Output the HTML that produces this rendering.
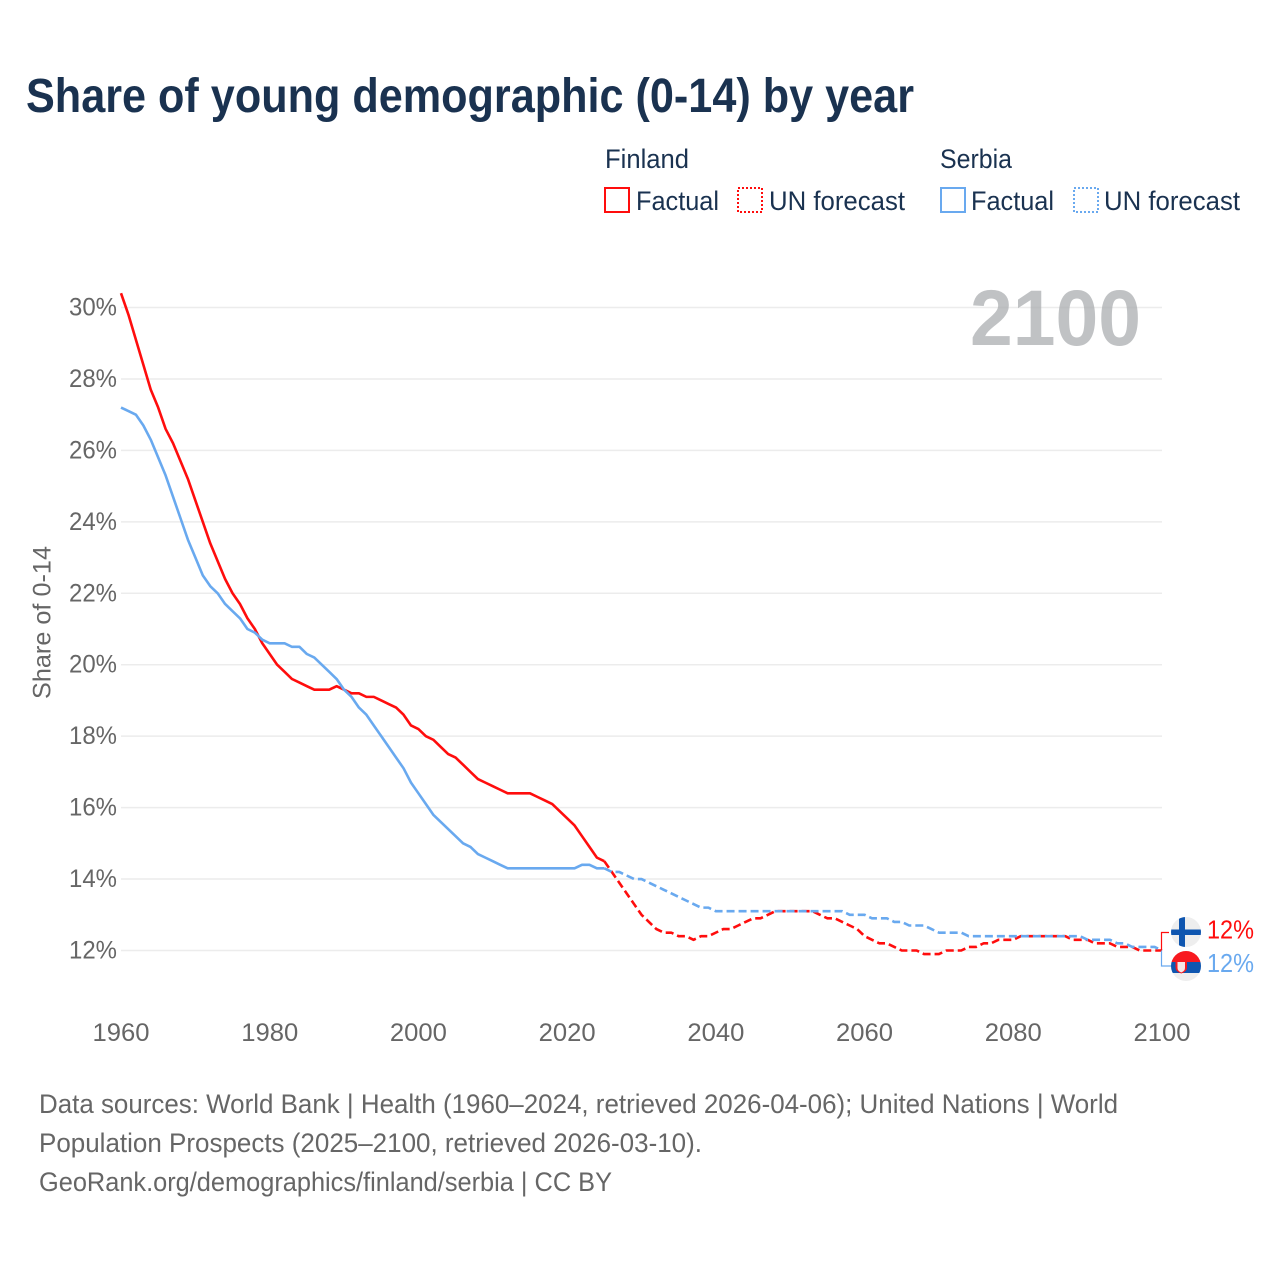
<!DOCTYPE html>
<html lang="en">
<head>
<meta charset="utf-8">
<title>Share of young demographic (0-14) by year</title>
<style>
html,body{margin:0;padding:0;background:#fff;width:1280px;height:1280px;overflow:hidden}
svg{display:block;font-family:"Liberation Sans",sans-serif}
</style>
</head>
<body>
<svg id="chart" width="1280" height="1280" viewBox="0 0 1280 1280" xmlns="http://www.w3.org/2000/svg">
  <rect width="1280" height="1280" fill="#fff"/>
  <text x="26" y="112" font-size="48" font-weight="700" fill="#1a3250" textLength="888" lengthAdjust="spacingAndGlyphs">Share of young demographic (0-14) by year</text>

  <g font-size="27" fill="#1a3250">
    <text x="605" y="168" textLength="84" lengthAdjust="spacingAndGlyphs">Finland</text>
    <text x="940" y="168" textLength="72" lengthAdjust="spacingAndGlyphs">Serbia</text>
    <g>
      <rect x="605" y="188" width="24" height="24" fill="none" stroke="#ff0d0d" stroke-width="2"/>
      <text x="636" y="210" textLength="83" lengthAdjust="spacingAndGlyphs">Factual</text>
    </g>
    <g>
      <rect x="738" y="188" width="24" height="24" fill="none" stroke="#ff0d0d" stroke-width="2" stroke-dasharray="2 2"/>
      <text x="769" y="210" textLength="136" lengthAdjust="spacingAndGlyphs">UN forecast</text>
    </g>
    <g>
      <rect x="941" y="188" width="24" height="24" fill="none" stroke="#69a9ef" stroke-width="2"/>
      <text x="971" y="210" textLength="83" lengthAdjust="spacingAndGlyphs">Factual</text>
    </g>
    <g>
      <rect x="1074" y="188" width="24" height="24" fill="none" stroke="#69a9ef" stroke-width="2" stroke-dasharray="2 2"/>
      <text x="1104" y="210" textLength="136" lengthAdjust="spacingAndGlyphs">UN forecast</text>
    </g>
  </g>

  <g id="grid"></g>
  <g id="yticks" font-size="25" fill="#666"></g>
  <g id="xticks" font-size="25" fill="#666"></g>
  <text transform="translate(50.5,699) rotate(-90)" font-size="25" fill="#666" textLength="153" lengthAdjust="spacingAndGlyphs">Share of 0-14</text>
  <text x="970" y="345" font-size="79" font-weight="700" fill="#a8aaad" fill-opacity="0.72" textLength="171" lengthAdjust="spacingAndGlyphs">2100</text>

  <g id="series"></g>
  <g id="connectors"></g>

  <defs>
    <clipPath id="clipFi"><circle cx="1186" cy="932" r="15"/></clipPath>
    <clipPath id="clipRs"><circle cx="1186" cy="966" r="15"/></clipPath>
  </defs>
  <g clip-path="url(#clipFi)">
    <rect x="1171" y="917" width="30" height="30" fill="#eeeeee"/>
    <rect x="1179" y="917" width="6" height="30" fill="#0f56b0"/>
    <rect x="1171" y="929.5" width="30" height="5.5" fill="#0f56b0"/>
  </g>
  <g clip-path="url(#clipRs)">
    <rect x="1171" y="951" width="30" height="30" fill="#eeeeee"/>
    <rect x="1171" y="951" width="30" height="11" fill="#f8191f"/>
    <rect x="1171" y="962" width="30" height="11" fill="#0f56b0"/>
    <path d="M1175.500 957.500h11.500v10q0 4-5.750 6q-5.750-2-5.750-6z" fill="#f8191f"/>
    <path d="M1177.500 962h7.500v6q0 3-3.750 4.500q-3.750-1.500-3.750-4.500z" fill="#f4e8e8"/>
  </g>
  <text id="endFi" x="1207" y="938.500" font-size="26" fill="#ff0d0d" textLength="47" lengthAdjust="spacingAndGlyphs"></text>
  <text id="endRs" x="1207" y="972" font-size="26" fill="#69a9ef" textLength="47" lengthAdjust="spacingAndGlyphs"></text>

  <g font-size="27" fill="#666">
    <text x="39" y="1113" textLength="1079" lengthAdjust="spacingAndGlyphs">Data sources: World Bank | Health (1960–2024, retrieved 2026-04-06); United Nations | World</text>
    <text x="39" y="1152" textLength="663" lengthAdjust="spacingAndGlyphs">Population Prospects (2025–2100, retrieved 2026-03-10).</text>
    <text x="39" y="1191" textLength="573" lengthAdjust="spacingAndGlyphs">GeoRank.org/demographics/finland/serbia | CC BY</text>
  </g>
</svg>
<script>
const xTickYears = [1960, 1980, 2000, 2020, 2040, 2060, 2080, 2100];
const yTickValues = [12, 14, 16, 18, 20, 22, 24, 26, 28, 30];
const factualStartYear = 1960;
const forecastStartYear = 2025;
const finlandFactual = [
  30.4,29.8,29.1,28.4,27.7,27.2,26.6,26.2,25.7,25.2,
  24.6,24.0,23.4,22.9,22.4,22.0,21.7,21.3,21.0,20.6,
  20.3,20.0,19.8,19.6,19.5,19.4,19.3,19.3,19.3,19.4,
  19.3,19.2,19.2,19.1,19.1,19.0,18.9,18.8,18.6,18.3,
  18.2,18.0,17.9,17.7,17.5,17.4,17.2,17.0,16.8,16.7,
  16.6,16.5,16.4,16.4,16.4,16.4,16.3,16.2,16.1,15.9,
  15.7,15.5,15.2,14.9,14.6,14.5
];
const serbiaFactual = [
  27.2,27.1,27.0,26.7,26.3,25.8,25.3,24.7,24.1,23.5,
  23.0,22.5,22.2,22.0,21.7,21.5,21.3,21.0,20.9,20.7,
  20.6,20.6,20.6,20.5,20.5,20.3,20.2,20.0,19.8,19.6,
  19.3,19.1,18.8,18.6,18.3,18.0,17.7,17.4,17.1,16.7,
  16.4,16.1,15.8,15.6,15.4,15.2,15.0,14.9,14.7,14.6,
  14.5,14.4,14.3,14.3,14.3,14.3,14.3,14.3,14.3,14.3,
  14.3,14.3,14.4,14.4,14.3,14.3
];
const finlandForecast = [
  14.5,14.2,13.9,13.6,13.3,13.0,12.8,12.6,12.5,12.5,
  12.4,12.4,12.3,12.4,12.4,12.5,12.6,12.6,12.7,12.8,
  12.9,12.9,13.0,13.1,13.1,13.1,13.1,13.1,13.1,13.0,
  12.9,12.9,12.8,12.7,12.6,12.4,12.3,12.2,12.2,12.1,
  12.0,12.0,12.0,11.9,11.9,11.9,12.0,12.0,12.0,12.1,
  12.1,12.2,12.2,12.3,12.3,12.3,12.4,12.4,12.4,12.4,
  12.4,12.4,12.4,12.3,12.3,12.3,12.2,12.2,12.2,12.1,
  12.1,12.1,12.0,12.0,12.0,12.0
];
const serbiaForecast = [
  14.3,14.2,14.2,14.1,14.0,14.0,13.9,13.8,13.7,13.6,
  13.5,13.4,13.3,13.2,13.2,13.1,13.1,13.1,13.1,13.1,
  13.1,13.1,13.1,13.1,13.1,13.1,13.1,13.1,13.1,13.1,
  13.1,13.1,13.1,13.0,13.0,13.0,12.9,12.9,12.9,12.8,
  12.8,12.7,12.7,12.7,12.6,12.5,12.5,12.5,12.5,12.4,
  12.4,12.4,12.4,12.4,12.4,12.4,12.4,12.4,12.4,12.4,
  12.4,12.4,12.4,12.4,12.4,12.3,12.3,12.3,12.3,12.2,
  12.2,12.1,12.1,12.1,12.1,12.0
];

const NS = 'http://www.w3.org/2000/svg';
const COLOR_FI = '#ff0d0d';
const COLOR_RS = '#69a9ef';
function xScale(year) { return 121 + (year - 1960) * (1162 - 121) / 140; }
function yScale(v) { return 950.5 - (v - 12) * (950.5 - 307.5) / 18; }
function make(tag, parentId) {
  const el = document.createElementNS(NS, tag);
  document.getElementById(parentId).appendChild(el);
  return el;
}

yTickValues.forEach(function (v) {
  const g = make('line', 'grid');
  
  
  g.setAttribute('x1', xScale(1960));
  g.setAttribute('x2', xScale(2100));
  g.setAttribute('y1', yScale(v));
  g.setAttribute('y2', yScale(v));
  g.setAttribute('stroke', '#ececec');
  g.setAttribute('stroke-width', '1.5');
  const t = make('text', 'yticks');
  
  
  t.setAttribute('x', 69);
  t.setAttribute('y', yScale(v) + 8);
  t.setAttribute('textLength', '48');
  t.setAttribute('lengthAdjust', 'spacingAndGlyphs');
  t.textContent = v + '%';
});

xTickYears.forEach(function (yr) {
  const t = make('text', 'xticks');
  
  
  t.setAttribute('x', xScale(yr) - 28.500);
  t.setAttribute('y', 1041);
  t.setAttribute('textLength', '57');
  t.setAttribute('lengthAdjust', 'spacingAndGlyphs');
  t.textContent = yr;
});

function drawLine(values, startYear, color, dashed, name) {
  const p = make('polyline', 'series');
  
  
  p.setAttribute('points', values.map(function (v, i) {
    return xScale(startYear + i).toFixed(2) + ',' + yScale(v).toFixed(2);
  }).join(' '));
  p.setAttribute('fill', 'none');
  p.setAttribute('stroke', color);
  p.setAttribute('stroke-width', '2.6');
  p.setAttribute('stroke-linejoin', 'round');
  if (dashed) { p.setAttribute('stroke-dasharray', '8 4'); }
}
drawLine(finlandFactual, factualStartYear, COLOR_FI, false, 'line-finland-factual');
drawLine(finlandForecast, forecastStartYear, COLOR_FI, true, 'line-finland-forecast');
drawLine(serbiaFactual, factualStartYear, COLOR_RS, false, 'line-serbia-factual');
drawLine(serbiaForecast, forecastStartYear, COLOR_RS, true, 'line-serbia-forecast');

const lastFi = finlandForecast[finlandForecast.length - 1];
const lastRs = serbiaForecast[serbiaForecast.length - 1];
const cFi = make('polyline', 'connectors');


cFi.setAttribute('points', '1161.5,' + yScale(lastFi) + ' 1161.5,932.5 1169,932.5');
cFi.setAttribute('fill', 'none');
cFi.setAttribute('stroke', COLOR_FI);
cFi.setAttribute('stroke-width', '1.2');
const cRs = make('polyline', 'connectors');


cRs.setAttribute('points', '1161.5,' + yScale(lastRs) + ' 1161.5,966 1172,966');
cRs.setAttribute('fill', 'none');
cRs.setAttribute('stroke', COLOR_RS);
cRs.setAttribute('stroke-width', '1.2');
document.getElementById('endFi').textContent = Math.round(lastFi) + '%';
document.getElementById('endRs').textContent = Math.round(lastRs) + '%';
</script>
</body>
</html>
